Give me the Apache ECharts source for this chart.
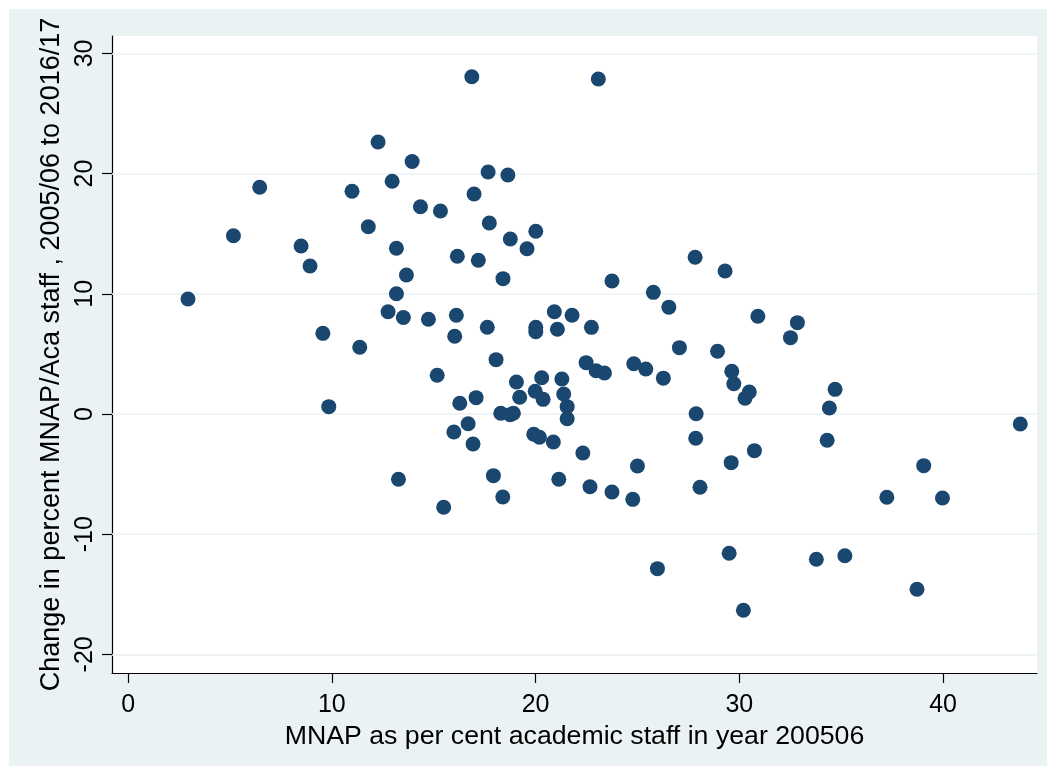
<!DOCTYPE html>
<html>
<head>
<meta charset="utf-8">
<script src="https://cdn.jsdelivr.net/npm/echarts@6/dist/echarts.min.js"></script>
<style>
  html, body { margin: 0; padding: 0; background: #ffffff; }
  #chart { position: absolute; left: 9px; top: 9px; width: 1038px; height: 757px; }
</style>
</head>
<body>
<div id="chart"></div>
<script>
// MNAP as per cent academic staff in 2005/06
const mnapPct = [
  2.94, 5.17, 6.46, 8.49, 8.93, 9.56, 9.85, 10.99, 11.37, 11.79,
  12.27, 12.76, 12.96, 13.17, 13.17, 13.27, 13.51, 13.66, 13.94, 14.35,
  14.74, 15.17, 15.33, 15.49, 15.99, 16.03, 16.11, 16.16, 16.28, 16.69,
  16.87, 16.93, 16.98, 17.08, 17.19, 17.63, 17.67, 17.73, 17.93, 18.06,
  18.29, 18.40, 18.39, 18.64, 18.76, 18.75, 18.91, 19.06, 19.22, 19.58,
  20.01, 20.01, 20.01, 19.98, 19.91, 20.19, 20.30, 20.37, 20.92, 20.87,
  21.07, 21.14, 21.29, 21.38, 21.55, 21.55, 21.79, 22.32, 22.48, 22.67,
  22.74, 22.97, 23.08, 23.38, 23.75, 23.75, 24.82, 24.77, 25.00, 25.41,
  25.78, 25.98, 26.27, 26.54, 27.06, 27.83, 27.88, 27.86, 28.07, 28.93,
  29.30, 29.50, 29.63, 29.60, 29.73, 30.20, 30.28, 30.49, 30.74, 30.91,
  32.51, 32.85, 33.78, 34.31, 34.42, 34.70, 35.18, 37.24, 38.72, 39.05,
  39.97, 43.79
];
// Change in percent MNAP/Aca staff, 2005/06 to 2016/17
const changePct = [
  9.57, 14.83, 18.86, 13.98, 12.31, 6.71, 0.61, 18.53, 5.55, 15.58,
  22.63, 8.51, 19.36, 13.79, 10.01, -5.43, 8.03, 11.56, 21.01, 17.24,
  7.88, 3.22, 16.89, -7.76, -1.50, 6.47, 8.22, 13.12, 0.89, -0.81,
  28.06, -2.50, 18.30, 1.36, 12.79, 7.22, 20.13, 15.89, -5.13, 4.52,
  0.06, 11.26, -6.91, 19.88, 14.56, -0.06, 0.06, 2.66, 1.39, 13.75,
  15.20, 7.21, 6.85, 1.89, -1.69, -1.94, 3.02, 1.22, 8.51, -2.33,
  7.05, -5.43, 2.91, 1.66, 0.61, -0.39, 8.21, -3.24, 4.27, -6.05,
  7.21, 3.60, 27.87, 3.41, 11.06, -6.49, 4.18, -7.10, -4.33, 3.74,
  10.12, -12.87, 2.98, 8.89, 5.52, 13.04, 0.02, -2.02, -6.09, 5.22,
  11.90, -11.59, 3.55, -4.05, 2.52, -16.33, 1.31, 1.83, -3.05, 8.13,
  6.35, 7.60, -12.09, -2.19, 0.50, 2.05, -11.79, -6.93, -14.58, -4.30,
  -6.99, -0.83
];
const xTicks = [0, 10, 20, 30, 40];
const yTicks = [-20, -10, 0, 10, 20, 30];
const xTitle = 'MNAP as per cent academic staff in year 200506';
const yTitle = 'Change in percent MNAP/Aca staff , 2005/06 to 2016/17';

const FONT = '"Liberation Sans", Arial, Helvetica, sans-serif';
const points = mnapPct.map((x, i) => [x, changePct[i]]);

const chart = echarts.init(document.getElementById('chart'), null, { renderer: 'canvas' });
chart.setOption({
  backgroundColor: '#eaf2f3',
  animation: false,
  grid: { left: 103, right: 10, top: 27, bottom: 93, show: true, backgroundColor: '#ffffff', borderWidth: 0 },
  xAxis: {
    type: 'value', min: -0.79, max: 44.61,
    name: xTitle, nameLocation: 'middle', nameGap: 37,
    nameTextStyle: { fontFamily: FONT, fontSize: 26.7, color: '#000' },
    axisLine: { show: true, onZero: false, lineStyle: { color: '#000', width: 1.2 } },
    axisTick: { show: true, length: 10, customValues: xTicks, lineStyle: { color: '#000', width: 1.2 } },
    axisLabel: { customValues: xTicks, margin: 20, fontSize: 25, color: '#000', fontFamily: FONT },
    splitLine: { show: false }
  },
  yAxis: {
    type: 'value', min: -21.55, max: 31.45,
    name: yTitle, nameLocation: 'middle', nameGap: 44, nameRotate: 90,
    nameTextStyle: { fontFamily: FONT, fontSize: 27, color: '#000' },
    axisLine: { show: true, onZero: false, lineStyle: { color: '#000', width: 1.2 } },
    axisTick: { show: true, length: 10, customValues: yTicks, lineStyle: { color: '#000', width: 1.2 } },
    axisLabel: { customValues: yTicks, rotate: 90, margin: 14, fontSize: 25, color: '#000', fontFamily: FONT },
    splitLine: { show: false }
  },
  series: [
    {
      type: 'line', data: [], z: 1, silent: true,
      markLine: {
        silent: true, z: 1, symbol: ['none', 'none'], animation: false,
        label: { show: false },
        lineStyle: { color: '#eaf2f3', width: 1.6, type: 'solid' },
        emphasis: { disabled: true },
        data: yTicks.map(v => ({ yAxis: v }))
      }
    },
    {
      type: 'scatter', data: points, symbol: 'circle', symbolSize: 15, z: 3,
      itemStyle: { color: '#1a476f', opacity: 1 }
    }
  ]
});
</script>
</body>
</html>
